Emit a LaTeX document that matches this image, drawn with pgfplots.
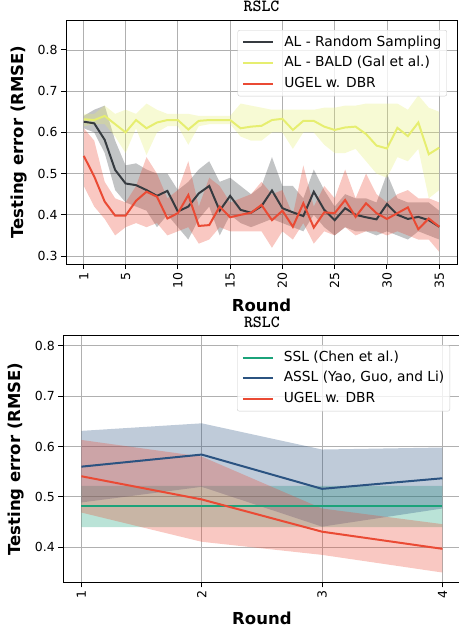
\documentclass[border=0pt]{standalone}
\usepackage{pgfplots}
\pgfplotsset{compat=1.18}
\usepackage{pgfplotstable}
\usepgfplotslibrary{fillbetween}
\usepackage{fontspec}
\setmainfont{DejaVu Sans}
\definecolor{cblack}{HTML}{363B40}
\definecolor{cyell}{HTML}{E6EE70}
\definecolor{cred}{HTML}{EA4A34}
\definecolor{cgreen}{HTML}{1BA37A}
\definecolor{cblue}{HTML}{2B5381}

\pgfplotstableread{
r am alo ahi bm blo bhi um ulo uhi
1 0.626 0.610 0.640 0.632 0.615 0.645 0.543 0.47 0.61
2 0.622 0.600 0.655 0.630 0.620 0.645 0.493 0.42 0.58
3 0.582 0.550 0.665 0.640 0.620 0.665 0.432 0.39 0.48
4 0.509 0.460 0.580 0.620 0.590 0.645 0.398 0.35 0.44
5 0.476 0.430 0.520 0.600 0.550 0.655 0.398 0.37 0.43
6 0.472 0.420 0.525 0.630 0.610 0.645 0.434 0.38 0.47
7 0.460 0.410 0.510 0.610 0.545 0.670 0.456 0.37 0.54
8 0.446 0.370 0.500 0.624 0.600 0.655 0.444 0.38 0.50
9 0.458 0.400 0.500 0.630 0.615 0.645 0.391 0.35 0.44
10 0.408 0.370 0.460 0.630 0.615 0.645 0.404 0.36 0.46
11 0.420 0.340 0.480 0.607 0.570 0.645 0.448 0.37 0.53
12 0.452 0.390 0.510 0.628 0.615 0.640 0.373 0.33 0.42
13 0.470 0.420 0.530 0.630 0.620 0.640 0.375 0.34 0.49
14 0.410 0.350 0.480 0.630 0.620 0.640 0.420 0.37 0.47
15 0.446 0.400 0.490 0.630 0.620 0.640 0.394 0.36 0.43
16 0.412 0.380 0.470 0.610 0.590 0.670 0.400 0.36 0.44
17 0.405 0.370 0.450 0.614 0.580 0.665 0.405 0.36 0.45
18 0.421 0.380 0.470 0.616 0.580 0.660 0.424 0.36 0.48
19 0.459 0.390 0.540 0.630 0.600 0.655 0.387 0.32 0.45
20 0.416 0.380 0.470 0.633 0.600 0.655 0.410 0.36 0.46
21 0.406 0.370 0.470 0.606 0.560 0.655 0.371 0.34 0.40
22 0.397 0.360 0.440 0.628 0.600 0.655 0.428 0.38 0.52
23 0.456 0.400 0.510 0.628 0.600 0.655 0.369 0.33 0.42
24 0.412 0.370 0.460 0.614 0.570 0.660 0.406 0.36 0.47
25 0.387 0.350 0.420 0.606 0.550 0.660 0.404 0.35 0.44
26 0.416 0.370 0.450 0.612 0.550 0.665 0.436 0.37 0.51
27 0.400 0.360 0.440 0.614 0.560 0.665 0.395 0.35 0.44
28 0.394 0.360 0.440 0.596 0.530 0.670 0.428 0.36 0.50
29 0.389 0.350 0.430 0.568 0.500 0.670 0.404 0.36 0.45
30 0.426 0.360 0.500 0.561 0.490 0.670 0.390 0.35 0.43
31 0.400 0.350 0.440 0.611 0.540 0.670 0.404 0.36 0.45
32 0.390 0.340 0.430 0.591 0.530 0.655 0.418 0.35 0.46
33 0.395 0.360 0.430 0.624 0.560 0.690 0.365 0.34 0.44
34 0.387 0.350 0.430 0.547 0.440 0.660 0.391 0.34 0.44
35 0.371 0.340 0.410 0.563 0.460 0.650 0.371 0.31 0.43
}\topdata

\pgfplotstableread{
r sm slo shi am alo ahi um ulo uhi
1 0.481 0.440 0.522 0.560 0.489 0.631 0.541 0.469 0.613
2 0.481 0.440 0.522 0.584 0.520 0.646 0.495 0.411 0.580
3 0.481 0.440 0.522 0.516 0.441 0.594 0.431 0.385 0.477
4 0.481 0.440 0.522 0.537 0.477 0.598 0.397 0.350 0.446
}\botdata

\pgfplotsset{
  mystyle/.style={
    scale only axis,
    axis line style={black, line width=1pt},
    tick style={black, line width=1pt},
    major tick length=5pt,
    tick align=outside,
    tick pos=left,
    grid=major,
    major grid style={color=black!31, line width=0.9pt},
    ticklabel style={font=\fontsize{12.5}{15}\selectfont},
    /pgf/number format/assume math mode=true,
    xticklabel style={rotate=90, anchor=east},
    label style={font=\fontsize{16.5}{20}\selectfont\bfseries},
    title style={font=\fontsize{17}{20}\selectfont\ttfamily\bfseries, anchor=base, yshift=-6pt},
    legend cell align=left,
    legend style={draw=black!20, rounded corners=2pt, fill=white, fill opacity=0.8, text opacity=1,
      inner sep=4.5pt, row sep=5.2pt, column sep=9pt,
      font=\fontsize{13.8}{16}\selectfont,
      nodes={inner sep=1pt, text height=10.5pt, text depth=3pt}},
    legend image code/.code={\draw[##1, line width=2pt] (0pt,0pt) -- (30pt,0pt);},
  }
}

\begin{document}
\begin{tikzpicture}

\begin{axis}[mystyle,
  at={(66pt,-264pt)}, anchor=south west,
  width=391pt, height=244pt,
  xmin=-0.7, xmax=36.7, ymin=0.2806, ymax=0.8728,
  xtick={1,5,10,15,20,25,30,35},
  ytick={0.3,0.4,0.5,0.6,0.7,0.8},
  yticklabels={0.3,0.4,0.5,0.6,0.7,0.8},
  title={RSLC}, title style={at={(axis description cs:0.5,1.033)}},
  xlabel={Round}, xlabel style={at={(axis description cs:0.5,-0.193)}, anchor=base},
  ylabel={Testing error (RMSE)}, ylabel style={at={(axis description cs:-0.108,0.5)}, anchor=base},
  legend style={at={(axis description cs:0.9744,0.959)}, anchor=north east},
]
\addplot[name path=ahi, draw=none, forget plot] table[x=r,y=ahi]{\topdata};
\addplot[name path=alo, draw=none, forget plot] table[x=r,y=alo]{\topdata};
\addplot[fill=cblack, fill opacity=0.3, draw=none, forget plot] fill between[of=ahi and alo];
\addplot[name path=bhi, draw=none, forget plot] table[x=r,y=bhi]{\topdata};
\addplot[name path=blo, draw=none, forget plot] table[x=r,y=blo]{\topdata};
\addplot[fill=cyell, fill opacity=0.3, draw=none, forget plot] fill between[of=bhi and blo];
\addplot[name path=uhi, draw=none, forget plot] table[x=r,y=uhi]{\topdata};
\addplot[name path=ulo, draw=none, forget plot] table[x=r,y=ulo]{\topdata};
\addplot[fill=cred, fill opacity=0.3, draw=none, forget plot] fill between[of=uhi and ulo];
\addplot[cblack, line width=2pt, no marks] table[x=r,y=am]{\topdata};
\addplot[cyell, line width=2pt, no marks] table[x=r,y=bm]{\topdata};
\addplot[cred, line width=2pt, no marks] table[x=r,y=um]{\topdata};
\legend{AL - Random Sampling, AL - BALD (Gal et al.), UGEL w. DBR}
\end{axis}

\begin{axis}[mystyle,
  at={(63.3pt,-582.3pt)}, anchor=south west,
  width=397.2pt, height=246.6pt,
  xmin=0.85, xmax=4.15, ymin=0.3306, ymax=0.8198,
  xtick={1,2,3,4},
  ytick={0.4,0.5,0.6,0.7,0.8},
  yticklabels={0.4,0.5,0.6,0.7,0.8},
  title={RSLC}, title style={at={(axis description cs:0.5,1.035)}},
  xlabel={Round}, xlabel style={at={(axis description cs:0.5,-0.173)}, anchor=base},
  ylabel={Testing error (RMSE)}, ylabel style={at={(axis description cs:-0.108,0.5)}, anchor=base},
  legend style={at={(axis description cs:0.9736,0.962)}, anchor=north east},
]
\addplot[name path=shi, draw=none, forget plot] table[x=r,y=shi]{\botdata};
\addplot[name path=slo, draw=none, forget plot] table[x=r,y=slo]{\botdata};
\addplot[fill=cgreen, fill opacity=0.3, draw=none, forget plot] fill between[of=shi and slo];
\addplot[name path=ahi, draw=none, forget plot] table[x=r,y=ahi]{\botdata};
\addplot[name path=alo, draw=none, forget plot] table[x=r,y=alo]{\botdata};
\addplot[fill=cblue, fill opacity=0.3, draw=none, forget plot] fill between[of=ahi and alo];
\addplot[name path=uhi, draw=none, forget plot] table[x=r,y=uhi]{\botdata};
\addplot[name path=ulo, draw=none, forget plot] table[x=r,y=ulo]{\botdata};
\addplot[fill=cred, fill opacity=0.3, draw=none, forget plot] fill between[of=uhi and ulo];
\addplot[cgreen, line width=2pt, no marks] table[x=r,y=sm]{\botdata};
\addplot[cblue, line width=2pt, no marks] table[x=r,y=am]{\botdata};
\addplot[cred, line width=2pt, no marks] table[x=r,y=um]{\botdata};
\legend{SSL (Chen et al.), {ASSL (Yao, Guo, and Li)}, UGEL w. DBR}
\end{axis}

\pgfresetboundingbox
\useasboundingbox (0pt,0pt) rectangle (458pt,-629pt);
\end{tikzpicture}
\end{document}
